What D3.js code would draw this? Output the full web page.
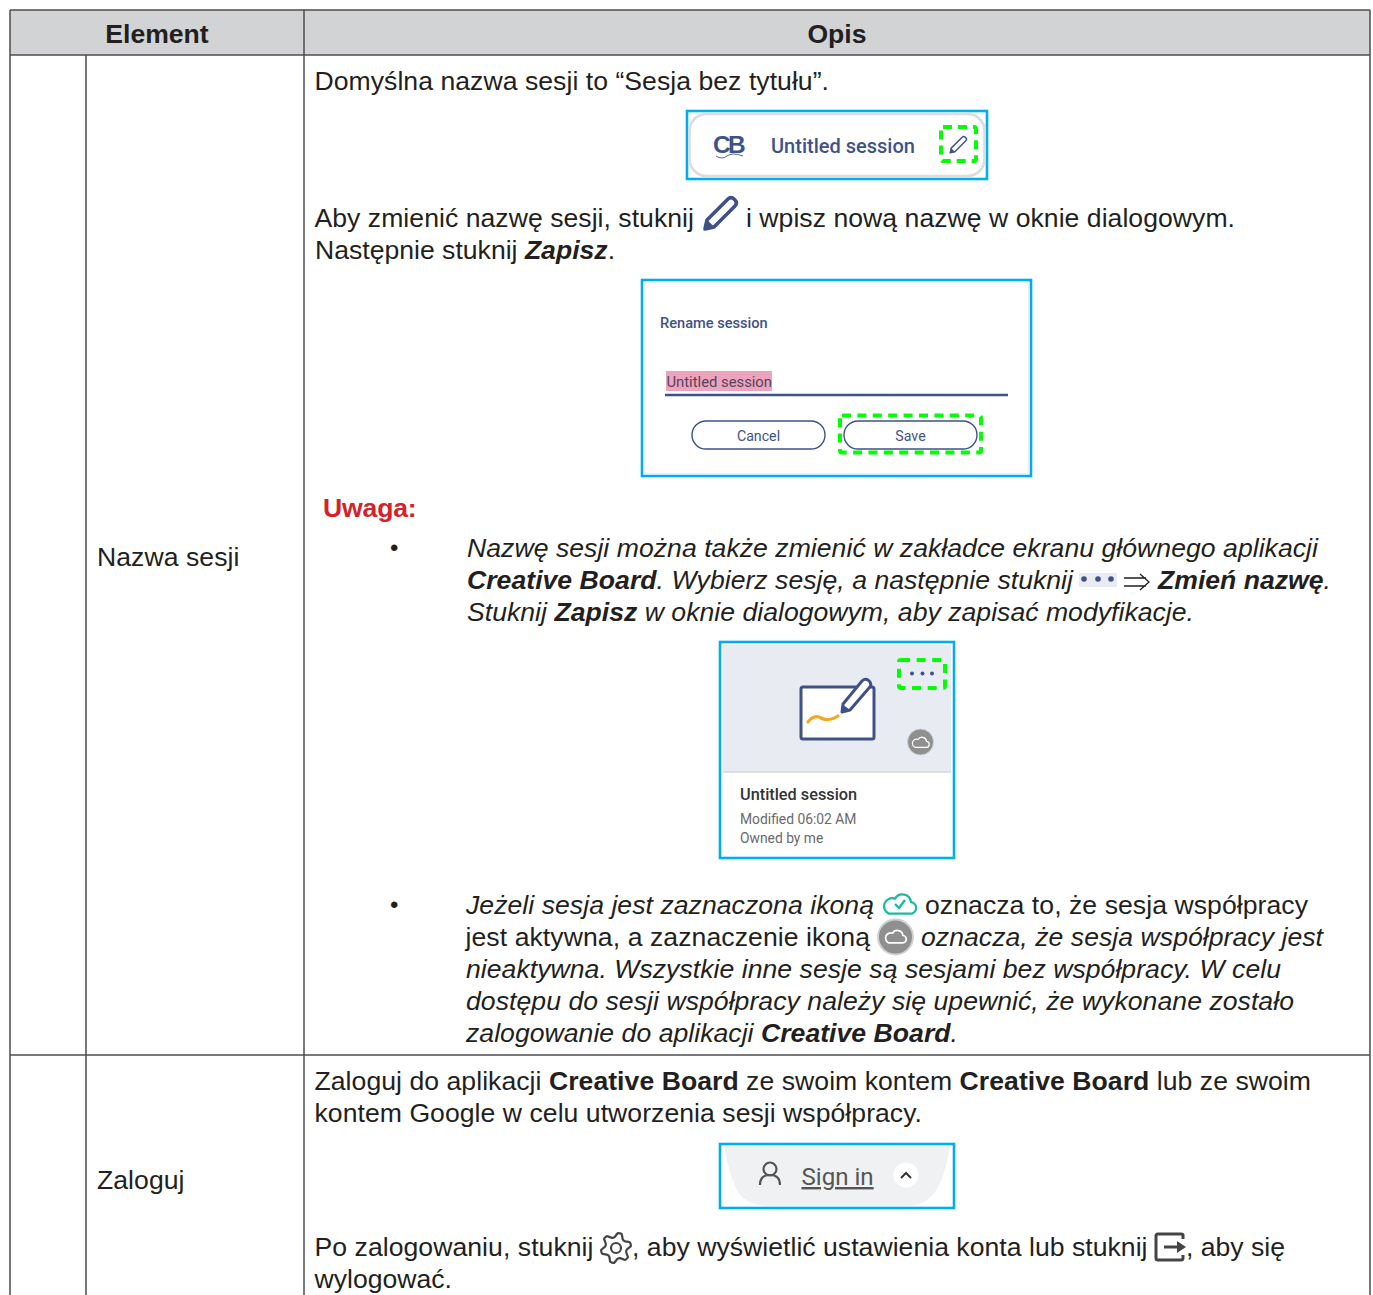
<!DOCTYPE html>
<html><head><meta charset="utf-8">
<script src="https://cdnjs.cloudflare.com/ajax/libs/d3/7.8.5/d3.min.js"></script>
<style>html,body{margin:0;padding:0;background:#fff;overflow:hidden}svg{display:block}text{white-space:pre}</style>
</head><body><div id="c"></div>
<script>
const headers = ["Element","Opis"];
const rowLabels = ["Nazwa sesji","Zaloguj"];
// text runs: [string, flags] r=regular b=bold i=italic
const bodyLines = [
 [[["Domyślna nazwa sesji to “Sesja bez tytułu”.","r"]]],
 [[["Aby zmienić nazwę sesji, stuknij","r"]]],
 [[["i wpisz nową nazwę w oknie dialogowym.","r"]]],
 [[["Następnie stuknij ","r"],["Zapisz","bi"],[".","r"]]],
 [[["Nazwę sesji można także zmienić w zakładce ekranu głównego aplikacji","i"]]],
 [[["Creative Board","bi"],[". Wybierz sesję, a następnie stuknij","i"]]],
 [[["Zmień nazwę","bi"],[".","i"]]],
 [[["Stuknij ","i"],["Zapisz","bi"],[" w oknie dialogowym, aby zapisać modyfikacje.","i"]]],
 [[["Jeżeli sesja jest zaznaczona ikoną","i"]]],
 [[["oznacza to, że sesja współpracy","r"]]],
 [[["jest aktywna, a zaznaczenie ikoną","r"]]],
 [[["oznacza, że sesja współpracy jest","i"]]],
 [[["nieaktywna. Wszystkie inne sesje są sesjami bez współpracy. W celu","i"]]],
 [[["dostępu do sesji współpracy należy się upewnić, że wykonane zostało","i"]]],
 [[["zalogowanie do aplikacji ","i"],["Creative Board","bi"],[".","i"]]],
 [[["Zaloguj do aplikacji ","r"],["Creative Board","b"],[" ze swoim kontem ","r"],["Creative Board","b"],[" lub ze swoim","r"]]],
 [[["kontem Google w celu utworzenia sesji współpracy.","r"]]],
 [[["Po zalogowaniu, stuknij","r"]]],
 [[[", aby wyświetlić ustawienia konta lub stuknij","r"]]],
 [[[", aby się","r"]]],
 [[["wylogować.","r"]]]
];
// left edge, right edge, baseline of each body line (same order)
const bodyPlace = [
 [314.5,829,90],[314.5,694,227],[746,1235,227],[315,615,259],
 [467,1318,557],[467,1073,589],[1158,1331,589],[467,1194,621],
 [466,874,914],[925,1308,914],[465.5,870,946],[921,1323,946],
 [466,1281,978],[466,1294,1010],[466,958,1042],
 [314.5,1311,1090],[314.5,922,1122],
 [314.5,593.5,1256],[632,1147.5,1256],[1186,1285,1256],[314.5,452,1288]
];
const W=1373,H=1295, FS=26.6, BLUE="#00aeef", GREEN="#00ff00", NAVY="#3f5287", SANS="'Liberation Sans',Arial,sans-serif", UI="Roboto,sans-serif";
const svg=d3.select("#c").append("svg").attr("width",W).attr("height",H).attr("viewBox",`0 0 ${W} ${H}`);

// table
svg.append("rect").attr("x",10).attr("y",10).attr("width",1360).attr("height",45).attr("fill","#d1d3d4");
const LC="#4d4d4f";
const rules=[[10,10,1370,10],[10,55,1370,55],[10,1055,1370,1055],[10,10,10,1295],[304,10,304,1295],[1370,10,1370,1295],[86,55,86,1295]];
svg.selectAll("line.r").data(rules).join("line").attr("class","r")
 .attr("x1",d=>d[0]).attr("y1",d=>d[1]).attr("x2",d=>d[2]).attr("y2",d=>d[3]).attr("stroke",LC).attr("stroke-width",1.5);
svg.selectAll("text.h").data(headers).join("text").attr("class","h")
 .attr("x",(d,i)=>[157,837][i]).attr("y",43).attr("text-anchor","middle")
 .attr("font-family",SANS).attr("font-weight",700).attr("font-size",26.6).attr("fill","#231f20").text(d=>d);

function fit(sel,target){
 const n=sel.text().length, w=sel.node().getComputedTextLength();
 sel.attr("letter-spacing",(target-w)/n);
}
function line(runs,x0,x1,b,fs=FS,col="#231f20"){
 const t=svg.append("text").attr("x",x0).attr("y",b).attr("font-family",SANS).attr("font-size",fs).attr("fill",col);
 runs.forEach(r=>t.append("tspan").attr("font-weight",r[1].includes("b")?700:400).attr("font-style",r[1].includes("i")?"italic":"normal").text(r[0]));
 fit(t,x1-x0);
}
bodyLines.forEach((l,i)=>line(l[0],...bodyPlace[i]));
rowLabels.forEach((s,i)=>line([[s,"r"]],97,[239.5,184.5][i],[566,1189][i]));
line([["Uwaga:","b"]],323,416.5,517,FS,"#d2232a");
[557,914].forEach(b=>svg.append("text").attr("x",390).attr("y",b-1).attr("font-family",SANS).attr("font-size",24).attr("fill","#231f20").text("•"));

function box(x0,y0,x1,y1){svg.append("rect").attr("x",x0).attr("y",y0).attr("width",x1-x0).attr("height",y1-y0).attr("fill","#fff").attr("stroke",BLUE).attr("stroke-width",2.6);}
function dash(x0,y0,x1,y1,d){svg.append("rect").attr("x",x0).attr("y",y0).attr("width",x1-x0).attr("height",y1-y0).attr("rx",2).attr("fill","none").attr("stroke",GREEN).attr("stroke-width",4).attr("stroke-dasharray",d);}
function ui(s,xx,b,fs,col,wt=400,anchor="start"){return svg.append("text").attr("x",xx).attr("y",b).attr("font-family",UI).attr("font-size",fs).attr("font-weight",wt).attr("fill",col).attr("text-anchor",anchor).text(s);}
function pencil(cx,cy,s,col,sw){ // drawn in a 34-unit square centred on cx,cy
 const g=svg.append("g").attr("transform",`translate(${cx},${cy}) scale(${s})`);
 g.append("path").attr("d","M-15 15 L-13 6 L8 -15 Q11 -18 14 -15 L15 -14 Q18 -11 15 -8 L-6 13 Z").attr("fill","none").attr("stroke",col).attr("stroke-width",sw).attr("stroke-linejoin","round");
 g.append("path").attr("d","M-15 15 L-13 7 L-7 13 Z").attr("fill",col).attr("stroke",col).attr("stroke-width",sw/2);
}

// session title bar
box(687,111,987,179);
svg.append("rect").attr("x",689.5).attr("y",114).attr("width",295).attr("height",62).attr("rx",17).attr("fill","#fff").attr("stroke","#dcdcdc").attr("stroke-width",2.6);
ui("CB",713,153,24.5,NAVY,700).attr("letter-spacing",-2.8).attr("font-family",SANS);
svg.append("path").attr("d","M716 156 Q722 160 727 156 T743 156").attr("fill","none").attr("stroke",NAVY).attr("stroke-width",.9);
ui("Untitled session",771,153,20,NAVY,500);
pencil(958,145,.52,NAVY,2.8);
dash(941,127,976,161,"9 6");
pencil(720,214,1,NAVY,3.6);

// rename dialog
box(642,280,1031,476);
svg.append("rect").attr("x",644.5).attr("y",282.5).attr("width",384).attr("height",191).attr("rx",3).attr("fill","#fff").attr("stroke","#eef0f3").attr("stroke-width",1.5);
ui("Rename session",660,327.5,14.6,NAVY,500);
svg.append("rect").attr("x",666).attr("y",371).attr("width",106).attr("height",20).attr("fill","#eea3bd");
ui("Untitled session",666.5,387,14.8,"#56425a");
svg.append("line").attr("x1",665).attr("x2",1008).attr("y1",395).attr("y2",395).attr("stroke",NAVY).attr("stroke-width",2.4);
[[692,825,"Cancel"],[844,977,"Save"]].forEach(d=>{
 svg.append("rect").attr("x",d[0]).attr("y",421).attr("width",d[1]-d[0]).attr("height",28).attr("rx",14).attr("fill","#fff").attr("stroke",NAVY).attr("stroke-width",1.4);
 ui(d[2],(d[0]+d[1])/2,441,14.2,NAVY,400,"middle");
});
dash(840,415.5,981,452.5,"9 6.4");

// session card
box(720,642,954,858);
svg.append("rect").attr("x",723).attr("y",645).attr("width",228).attr("height",127).attr("fill","#e8ebf2");
svg.append("line").attr("x1",723).attr("x2",951).attr("y1",772).attr("y2",772).attr("stroke","#d5d6d9").attr("stroke-width",1.5);
svg.append("rect").attr("x",801).attr("y",687).attr("width",73).attr("height",52).attr("rx",2).attr("fill","#fff").attr("stroke",NAVY).attr("stroke-width",3);
svg.append("path").attr("d","M808 722 Q814 714 821 718 T838 716").attr("fill","none").attr("stroke","#f5a81c").attr("stroke-width",3.2).attr("stroke-linecap","round");
const pen=svg.append("g").attr("transform","translate(856,695)");
pen.append("path").attr("d","M-14 17 L-13 9 L6 -14 Q9 -17 12 -15 L14 -13 Q16 -10 13 -7 L-6 15 Z").attr("fill","#fff").attr("stroke",NAVY).attr("stroke-width",3).attr("stroke-linejoin","round");
pen.append("path").attr("d","M-14 17 L-13 10 L-8 14 Z").attr("fill",NAVY).attr("stroke",NAVY);
dash(899,660,945,688,"9 6.6");
[913,923.5,933].map(c=>svg.append("circle").attr("cx",c-1).attr("cy",673.5).attr("r",2).attr("fill",NAVY));
function cloud(cx,cy,s,col,sw){
 svg.append("g").attr("transform",`translate(${cx},${cy}) scale(${s})`).append("path")
  .attr("d","M-9 8 H9 A5 5 0 0 0 10 -2 A7.5 7.5 0 0 0 -4 -5 A6.5 6.5 0 0 0 -9 8 Z").attr("fill","none").attr("stroke",col).attr("stroke-width",sw/s).attr("stroke-linejoin","round");
}
svg.append("circle").attr("cx",920.5).attr("cy",742).attr("r",13).attr("fill","#8f8f8f").attr("stroke","#cfcfcf").attr("stroke-width",1);
cloud(920.5,742.5,.6,"#fff",1.2);
ui("Untitled session",740,800,16.3,"#333",500);
ui("Modified 06:02 AM",740,824,13.85,"#6a6a6a");
ui("Owned by me",740,843,13.85,"#6a6a6a");

// inline session-menu dots and arrow
svg.append("rect").attr("x",1079).attr("y",573).attr("width",38).attr("height",14).attr("fill","#e8ebf2");
[1084,1098,1111].forEach(c=>svg.append("circle").attr("cx",c).attr("cy",579).attr("r",2.8).attr("fill",NAVY));
svg.append("path").attr("d","M1124 578 H1146 M1124 586 H1146 M1140 574 L1149 582 L1140 590").attr("fill","none").attr("stroke","#231f20").attr("stroke-width",1.3);

// inline cloud icons
cloud(899.5,904.5,1.15,"#1abc9c",2.2);
svg.append("path").attr("d","M895 904 L899 908 L905 900").attr("fill","none").attr("stroke","#1abc9c").attr("stroke-width",2.4);
svg.append("circle").attr("cx",895.5).attr("cy",937).attr("r",17.5).attr("fill","#8f8f8f").attr("stroke","#d0d0d0").attr("stroke-width",2);
cloud(895.5,937,.74,"#fff",1.7);

// sign-in strip
box(720,1144,954,1208);
svg.append("path").attr("d","M724 1146 H950 Q945 1178 935 1192 Q925 1206 905 1206 H768 Q748 1206 738 1192 Q730 1178 724 1146 Z").attr("fill","#f0f1f2");
svg.append("circle").attr("cx",770).attr("cy",1169).attr("r",6.5).attr("fill","none").attr("stroke","#555").attr("stroke-width",2.2);
svg.append("path").attr("d","M760 1185 Q760 1175 770 1175 Q780 1175 780 1185").attr("fill","none").attr("stroke","#555").attr("stroke-width",2.2);
ui("Sign in",801.5,1185,24.1,"#555").attr("text-decoration","underline");
svg.append("circle").attr("cx",906).attr("cy",1175).attr("r",12.5).attr("fill","#fff");
svg.append("path").attr("d","M901 1178 L906 1173 L911 1178").attr("fill","none").attr("stroke","#333").attr("stroke-width",2);

// gear & logout icons
const gear=svg.append("g").attr("transform","translate(616,1248)");
gear.append("circle").attr("r",5).attr("fill","none").attr("stroke","#444").attr("stroke-width",2.2);
const gearProfile=[15,15,11,11];
gear.append("path").attr("d",d3.lineRadial().curve(d3.curveCardinalClosed.tension(.6)).angle(d=>(d+7.5)*Math.PI/180).radius((d,i)=>gearProfile[i%4])(d3.range(0,360,15))).attr("fill","none").attr("stroke","#444").attr("stroke-width",2.2);
svg.append("path").attr("d","M1183 1239 V1235 Q1183 1234 1181 1234 H1158 Q1156 1234 1156 1236 V1258 Q1156 1260 1158 1260 H1181 Q1183 1260 1183 1258 V1255").attr("fill","none").attr("stroke","#444").attr("stroke-width",3);
svg.append("path").attr("d","M1164 1247 H1179").attr("fill","none").attr("stroke","#444").attr("stroke-width",3);
svg.append("path").attr("d","M1177 1241 L1186 1247 L1177 1253 Z").attr("fill","#444");
</script></body></html>
